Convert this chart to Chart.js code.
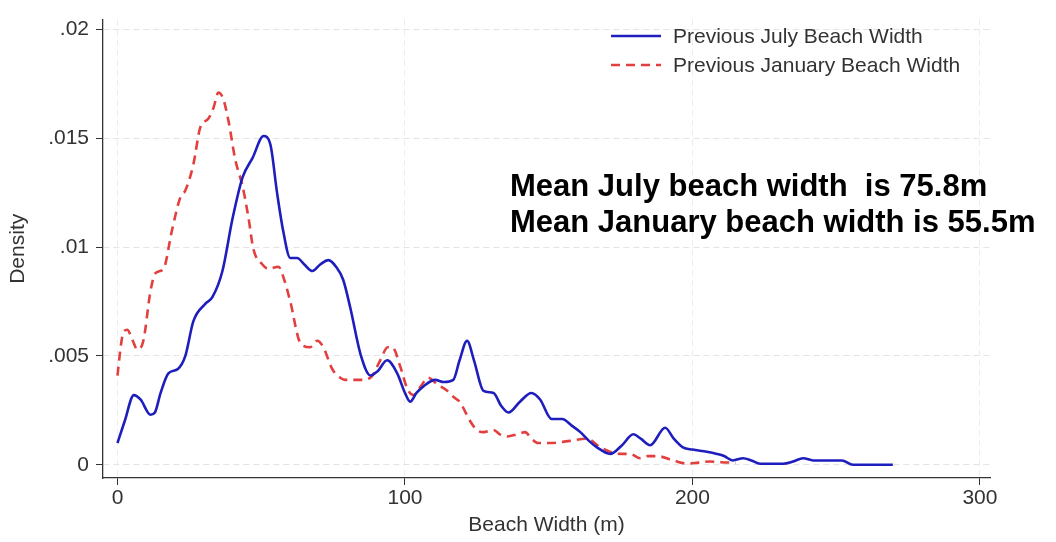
<!DOCTYPE html>
<html>
<head>
<meta charset="utf-8">
<script src="https://cdn.jsdelivr.net/npm/chart.js@4/dist/chart.umd.min.js"></script>
<style>
  html, body { margin: 0; padding: 0; background: #fff; }
  #wrap { width: 1056px; height: 542px; }
</style>
</head>
<body>
<div id="wrap"><canvas id="c" width="1056" height="542"></canvas></div>
<script>
// Kernel density estimates of beach width (m)
const julyWidth = [0, 2.5, 5.7, 8, 11.5, 13, 15, 17.7, 21, 23.6, 26.4, 30.6, 33, 36.5, 40, 43.5, 47, 50.8, 53.2, 55.5,
  57.7, 60.1, 62.5, 65, 67.8, 70.5, 73.4, 76, 78.5, 81, 84.5, 88, 90.5, 93.8, 97.3, 100, 101.8, 104, 106.4, 110.5,
  113.5, 116.8, 119, 121.6, 124, 127.3, 130.8, 133.5, 136, 140, 144, 147, 151, 154.7, 158, 161, 164, 166.8, 171.4,
  175.5, 179.4, 182, 185.3, 190.5, 193.5, 196.7, 200, 205, 208.5, 211, 214, 217.6, 220.5, 223.5, 231.5, 235, 238.5,
  242, 248, 252, 255.8, 269.7];
const julyDensity = [0.0010, 0.0020, 0.0032, 0.0030, 0.0023, 0.0024, 0.0033, 0.0042, 0.0044, 0.0050, 0.0066, 0.0074,
  0.0077, 0.0089, 0.0113, 0.0132, 0.0141, 0.0151, 0.0147, 0.0125, 0.0107, 0.0095, 0.0095, 0.0092, 0.0089, 0.0092,
  0.0094, 0.0091, 0.0085, 0.0072, 0.0051, 0.0041, 0.0043, 0.0048, 0.0042, 0.0033, 0.0029, 0.0033, 0.0036, 0.0039,
  0.0038, 0.0039, 0.0048, 0.0057, 0.0048, 0.0034, 0.0033, 0.0027, 0.0024, 0.0029, 0.0033, 0.0030, 0.0021, 0.0021,
  0.0018, 0.0015, 0.0011, 0.0008, 0.0005, 0.0009, 0.0014, 0.0012, 0.0009, 0.0017, 0.0012, 0.0008, 0.0007, 0.0006,
  0.0005, 0.0004, 0.0002, 0.0003, 0.0002, 0.00005, 0.00005, 0.00015, 0.0003, 0.0002, 0.0002, 0.0002, 0.0000, 0.0000];

const janWidth = [0, 1.2, 2.1, 3.4, 5, 6.9, 9, 11.5, 13.2, 16, 19, 21.9, 23.6, 26.4, 28.8, 31.6, 33.4, 35.1, 36.8, 38.6,
  41, 43.5, 45.5, 47.3, 50.4, 52.5, 56, 58, 60.1, 63.6, 67, 69.5, 71.6, 74.7, 77.5, 79.2, 84.5, 88, 91.4, 94, 95.6,
  98.4, 100.8, 103, 105.5, 108, 111.2, 114.7, 117, 119, 122.7, 125, 127.3, 130.8, 133, 135.6, 139, 141.8, 144, 146.3,
  150.5, 157.5, 163.4, 168, 174.8, 178.3, 181.8, 184.5, 187.7, 193.3, 198.4, 202, 206, 210, 215];
const janDensity = [0.0041, 0.0055, 0.0061, 0.0062, 0.0058, 0.0053, 0.0057, 0.0080, 0.0088, 0.0090, 0.0108, 0.0123,
  0.0126, 0.0138, 0.0155, 0.0159, 0.0164, 0.0171, 0.0168, 0.0158, 0.0140, 0.0128, 0.0114, 0.0099, 0.0092, 0.0090,
  0.0091, 0.0085, 0.0075, 0.0056, 0.0054, 0.0057, 0.0054, 0.0044, 0.0040, 0.0039, 0.0039, 0.0040, 0.0048, 0.0054,
  0.0054, 0.0045, 0.0035, 0.0032, 0.0036, 0.0040, 0.0037, 0.0034, 0.0031, 0.0029, 0.0020, 0.0016, 0.0015, 0.0016,
  0.0014, 0.0013, 0.0014, 0.0015, 0.0012, 0.0010, 0.0010, 0.0011, 0.0012, 0.0008, 0.0005, 0.0005, 0.0003, 0.0004,
  0.0004, 0.0002, 0.00005, 0.0001, 0.00015, 0.00012, 0.0001];

const xTicks = [0, 100, 200, 300];
const yTicks = [0, 0.005, 0.01, 0.015, 0.02];
const yTickLabels = ['0', '.005', '.01', '.015', '.02'];
const seriesNames = ['Previous July Beach Width', 'Previous January Beach Width'];
const notes = ['Mean July beach width  is 75.8m', 'Mean January beach width is 55.5m'];

const BLUE = '#1e1ebe';
const RED = '#e2403e';
const INK = '#333333';
const FONT = "'Liberation Sans', Arial, sans-serif";
const TXT = 21;

const toPoints = (xs, ys) => xs.map((x, i) => ({ x, y: ys[i] }));

// Legend and annotation text drawn on the canvas
const overlay = {
  id: 'overlay',
  afterDraw(chart) {
    const ctx = chart.ctx;
    ctx.save();
    const rows = [
      { y: 36, color: BLUE, dash: [] },
      { y: 65, color: RED, dash: [9, 6] }
    ];
    rows.forEach((r, i) => {
      ctx.beginPath();
      ctx.setLineDash(r.dash);
      ctx.lineWidth = 2.6;
      ctx.strokeStyle = r.color;
      ctx.moveTo(611, r.y);
      ctx.lineTo(661, r.y);
      ctx.stroke();
      ctx.setLineDash([]);
      ctx.fillStyle = INK;
      ctx.font = `${TXT}px ${FONT}`;
      ctx.textAlign = 'left';
      ctx.textBaseline = 'middle';
      ctx.fillText(seriesNames[i], 673, r.y + 1);
    });
    ctx.fillStyle = '#000';
    ctx.textBaseline = 'alphabetic';
    ctx.font = `bold 31px ${FONT}`;
    ctx.fillText(notes[0], 510, 196);
    ctx.fillText(notes[1], 510, 232);
    ctx.restore();
  }
};

new Chart(document.getElementById('c'), {
  type: 'line',
  data: {
    datasets: [
      {
        label: seriesNames[0],
        data: toPoints(julyWidth, julyDensity),
        borderColor: BLUE,
        borderWidth: 2.6,
        pointRadius: 0,
        cubicInterpolationMode: 'monotone',
        fill: false
      },
      {
        label: seriesNames[1],
        data: toPoints(janWidth, janDensity),
        borderColor: RED,
        borderWidth: 2.6,
        borderDash: [9, 6],
        pointRadius: 0,
        cubicInterpolationMode: 'monotone',
        fill: false
      }
    ]
  },
  options: {
    responsive: false,
    animation: false,
    layout: { padding: { top: 10, right: 66, left: 0, bottom: 0 } },
    plugins: {
      legend: { display: false },
      tooltip: { enabled: false }
    },
    scales: {
      x: {
        type: 'linear',
        min: -5.04,
        max: 303.5,
        afterBuildTicks: s => { s.ticks = xTicks.map(v => ({ value: v })); },
        afterFit: s => { s.height = 64; },
        ticks: {
          color: INK,
          font: { family: FONT, size: TXT },
          padding: 1,
          maxRotation: 0,
          callback: v => String(v)
        },
        grid: { color: '#ececec', lineWidth: 1, tickColor: INK, tickLength: 7 },
        border: { display: true, color: INK, width: 1.3, dash: [6, 4] },
        title: {
          display: true,
          text: 'Beach Width (m)',
          color: INK,
          font: { family: FONT, size: TXT },
          padding: { top: 0, bottom: 4.5 }
        }
      },
      y: {
        type: 'linear',
        min: -0.000607,
        max: 0.02045,
        afterBuildTicks: s => { s.ticks = yTicks.map(v => ({ value: v })); },
        afterFit: s => { s.width = 103; },
        ticks: {
          color: INK,
          font: { family: FONT, size: TXT },
          padding: 7,
          callback: (v) => yTickLabels[yTicks.findIndex(t => Math.abs(t - v) < 1e-9)]
        },
        grid: { color: '#e4e4e4', lineWidth: 1, tickColor: INK, tickLength: 7 },
        border: { display: true, color: INK, width: 1.3, dash: [6, 4] },
        title: {
          display: true,
          text: 'Density',
          color: INK,
          font: { family: FONT, size: TXT },
          padding: { top: 6, bottom: 0 }
        }
      }
    }
  },
  plugins: [overlay]
});
</script>
</body>
</html>
